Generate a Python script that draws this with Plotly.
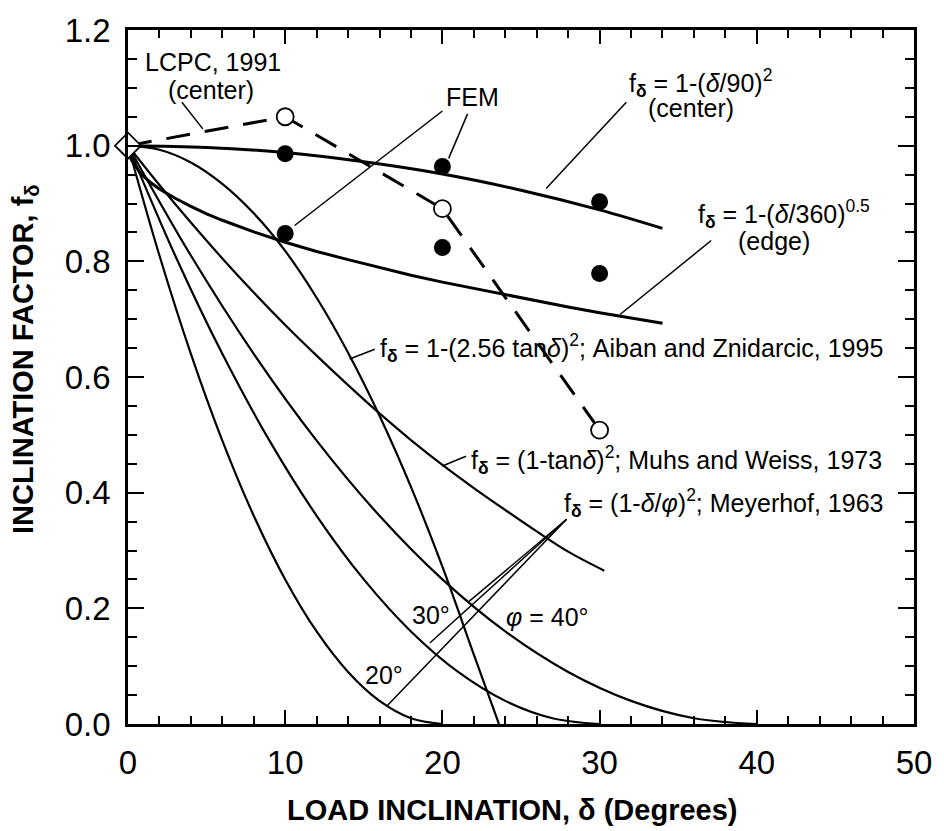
import plotly.graph_objects as go

# ---- data ----
d_center = [0, 5, 10, 15, 20, 25, 30, 34]
f_center = [1.000, 0.997, 0.988, 0.972, 0.951, 0.923, 0.889, 0.857]

d_edge = [0, 0.1, 0.25, 0.5, 0.75, 1, 1.5, 2, 3, 4, 5, 6, 8, 10, 12, 14, 16, 18, 20, 22, 24, 26, 28, 30, 32, 34]
f_edge = [1.0, 0.983, 0.974, 0.963, 0.954, 0.947, 0.935, 0.925, 0.909, 0.895, 0.882, 0.871,
          0.851, 0.833, 0.817, 0.803, 0.789, 0.776, 0.764, 0.753, 0.742, 0.731, 0.721, 0.711,
          0.702, 0.693]

d_aiban = [0, 2, 4, 6, 8, 10, 12, 14, 16, 18, 20, 22, 23.6]
f_aiban = [1.0, 0.993, 0.971, 0.934, 0.883, 0.818, 0.737, 0.642, 0.533, 0.410, 0.272, 0.120, 0.0]

d_muhs = [0, 2, 4, 6, 8, 10, 12, 14, 16, 18, 20, 22, 24, 26, 28, 30.3]
f_muhs = [1.0, 0.932, 0.867, 0.805, 0.746, 0.690, 0.637, 0.586, 0.537, 0.491, 0.448,
          0.408, 0.370, 0.333, 0.298, 0.265]

d_mey20 = [0, 2, 4, 6, 8, 10, 12, 14, 16, 18, 20]
d_mey30 = [0, 3, 6, 9, 12, 15, 18, 21, 24, 27, 30]
d_mey40 = [0, 4, 8, 12, 16, 20, 24, 28, 32, 36, 40]
f_mey = [1.0, 0.81, 0.64, 0.49, 0.36, 0.25, 0.16, 0.09, 0.04, 0.01, 0.0]

d_lcpc = [0, 10, 20, 30]
f_lcpc = [1.0, 1.05, 0.891, 0.508]

d_fem = [10, 10, 20, 20, 30, 30]
f_fem = [0.986, 0.848, 0.964, 0.824, 0.903, 0.779]

x_ticks = [0, 10, 20, 30, 40, 50]
y_ticks = [0.0, 0.2, 0.4, 0.6, 0.8, 1.0, 1.2]

FONT = "Liberation Sans, Arial, Helvetica, sans-serif"

fig = go.Figure()

def curve(x, y, w, shape="spline"):
    fig.add_trace(go.Scatter(x=x, y=y, mode="lines",
                             line=dict(color="black", width=w, shape=shape,
                                       smoothing=1.0 if shape == "spline" else None),
                             hoverinfo="skip", showlegend=False, cliponaxis=True))

curve(d_center, f_center, 3)
curve(d_edge, f_edge, 3, shape="linear")
curve(d_aiban, f_aiban, 2.2)
curve(d_muhs, f_muhs, 2.2)
curve(d_mey20, f_mey, 2.2)
curve(d_mey30, f_mey, 2.2)
curve(d_mey40, f_mey, 2.2)

# LCPC dashed line
fig.add_trace(go.Scatter(x=d_lcpc, y=f_lcpc, mode="lines",
                         line=dict(color="black", width=3, dash="24px,15px"),
                         showlegend=False, hoverinfo="skip"))
# LCPC open circles
fig.add_trace(go.Scatter(x=d_lcpc[1:], y=f_lcpc[1:], mode="markers",
                         marker=dict(symbol="circle", size=17, color="white",
                                     line=dict(color="black", width=1.8)),
                         showlegend=False, hoverinfo="skip", cliponaxis=False))
# origin diamond
fig.add_trace(go.Scatter(x=d_lcpc[:1], y=f_lcpc[:1], mode="markers",
                         marker=dict(symbol="diamond", size=20, color="white",
                                     line=dict(color="black", width=1.8)),
                         showlegend=False, hoverinfo="skip", cliponaxis=False))
# FEM filled circles
fig.add_trace(go.Scatter(x=d_fem, y=f_fem, mode="markers",
                         marker=dict(symbol="circle", size=17, color="black"),
                         showlegend=False, hoverinfo="skip", cliponaxis=False))

# ---- leader lines (annotation pointers) ----
leaders = [
    ((3.43, 1.075), (4.76, 1.029)),     # LCPC
    ((20.0, 1.060), (10.6, 0.862)),     # FEM -> lower 10
    ((21.6, 1.055), (20.4, 0.978)),     # FEM -> upper 20
    ((31.7, 1.075), (26.6, 0.926)),     # center formula
    ((37.1, 0.836), (31.3, 0.708)),     # edge formula
    ((15.7, 0.648), (14.1, 0.631)),     # Aiban
    ((21.5, 0.463), (20.0, 0.446)),     # Muhs
    ((27.9, 0.354), (16.5, 0.032)),     # Meyerhof 20
    ((27.9, 0.354), (19.2, 0.140)),     # Meyerhof 30
    ((27.9, 0.354), (21.7, 0.212)),     # Meyerhof 40
]
for (x0, y0), (x1, y1) in leaders:
    fig.add_shape(type="line", x0=x0, y0=y0, x1=x1, y1=y1, xref="x", yref="y",
                  line=dict(color="black", width=1.5))

ann_font = dict(family=FONT, size=25, color="black")
labels = [
    (5.4, 1.144, "LCPC, 1991", "center"),
    (5.3, 1.097, "(center)", "center"),
    (21.9, 1.084, "FEM", "center"),
    (36.4, 1.109, "f<sub><b>δ</b></sub> = 1-(<i>δ</i>/90)<sup>2</sup>", "center"),
    (35.8, 1.065, "(center)", "center"),
    (41.7, 0.882, "f<sub><b>δ</b></sub> = 1-(<i>δ</i>/360)<sup>0.5</sup>", "center"),
    (41.1, 0.836, "(edge)", "center"),
    (15.9, 0.651, "f<sub><b>δ</b></sub> = 1-(2.56 tan<i>δ</i>)<sup>2</sup>; Aiban and Znidarcic, 1995", "left"),
    (21.7, 0.456, "f<sub><b>δ</b></sub> = (1-tan<i>δ</i>)<sup>2</sup>; Muhs and Weiss, 1973", "left"),
    (27.6, 0.383, "f<sub><b>δ</b></sub> = (1-<i>δ</i>/<i>φ</i>)<sup>2</sup>; Meyerhof, 1963", "left"),
    (19.3, 0.188, "30°", "center"),
    (16.3, 0.084, "20°", "center"),
    (26.7, 0.185, "<i>φ</i> = 40°", "center"),
]
for x, y, t, anc in labels:
    fig.add_annotation(x=x, y=y, text=t, showarrow=False, xanchor=anc, yanchor="middle",
                       font=ann_font, xref="x", yref="y")

# axis titles
fig.add_annotation(x=0.488, y=0, xref="paper", yref="paper", yshift=-86,
                   text="<b>LOAD INCLINATION, δ (Degrees)</b>", showarrow=False,
                   xanchor="center", yanchor="middle",
                   font=dict(family=FONT, size=29, color="black"))
fig.add_annotation(x=0, y=0.526, xref="paper", yref="paper", xshift=-103,
                   text="<b>INCLINATION FACTOR, f<sub>δ</sub></b>", showarrow=False,
                   textangle=-90, xanchor="center", yanchor="middle",
                   font=dict(family=FONT, size=29, color="black"))

axis_common = dict(showline=True, linewidth=2.5, linecolor="black", mirror="allticks",
                   ticks="inside", tickwidth=2.2, tickcolor="black", showgrid=False,
                   zeroline=False, tickfont=dict(family=FONT, size=33, color="black"))
fig.update_xaxes(range=[0, 50], tickvals=x_ticks, ticklen=14,
                 minor=dict(dtick=2, ticklen=8, tickwidth=2, ticks="inside", tickcolor="black"),
                 ticklabelstandoff=8, **axis_common)
fig.update_yaxes(range=[0, 1.2], tickvals=y_ticks, tickformat=".1f", ticklen=16,
                 minor=dict(dtick=0.05, ticklen=9, tickwidth=2, ticks="inside", tickcolor="black"),
                 ticklabelstandoff=8, **axis_common)

fig.update_layout(width=944, height=831, margin=dict(l=128, r=29, t=22, b=107),
                  plot_bgcolor="white", paper_bgcolor="white", showlegend=False)

fig.write_html("out.html")
